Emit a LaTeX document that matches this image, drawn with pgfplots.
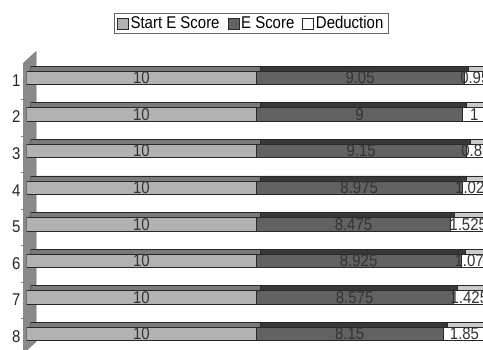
\documentclass[border=0pt]{standalone}
\usepackage{fontspec}
\setmainfont{Liberation Sans}[FakeStretch=0.88]
\usepackage{pgfplots}
\usepackage{pgfplotstable}
\pgfplotsset{compat=1.18}

% bar faces and their top (depth) faces
\definecolor{startface}{RGB}{178,178,178}
\definecolor{starttop}{RGB}{122,122,122}
\definecolor{scoreface}{RGB}{98,98,98}
\definecolor{scoretop}{RGB}{56,56,56}
\definecolor{dedface}{RGB}{255,255,255}
\definecolor{dedtop}{RGB}{202,202,202}
\definecolor{edge}{RGB}{40,40,40}
\definecolor{wall}{RGB}{138,138,138}

\newcommand\chartfont{\fontsize{17}{20}\selectfont}

% run, start value, execution score, deduction
\pgfplotstableread{
run start escore deduction
1 10 9.05  0.95
2 10 9     1
3 10 9.15  0.85
4 10 8.975 1.025
5 10 8.475 1.525
6 10 8.925 1.075
7 10 8.575 1.425
8 10 8.15  1.85
}\scores

% one x unit is 470.5pt / 20.5 = 22.95pt; the page cuts the bars at the right
\pgfplotsset{
  barframe/.style={
    scale only axis, width=470.5pt, height=292.6pt,
    anchor=south west,
    xmin=0, xmax=20.5, ymin=0.5, ymax=8.5, y dir=reverse,
    xbar stacked, bar width=13.5pt,
  },
}

\begin{document}
\begin{tikzpicture}
% side wall of the category axis
\filldraw[fill=wall, draw=black!55, line width=0.5pt]
  (23.3pt,286.7pt) -- (36pt,298.3pt) -- (36pt,8.3pt) -- (23.3pt,-3.3pt) -- cycle;

% depth faces: the same stacks, pushed back and up
\begin{axis}[barframe, at={(30.7pt,2.7pt)}, hide axis]
  \addplot[fill=starttop, draw=edge, line width=0.8pt] table[x=start, y=run] {\scores};
  \addplot[fill=scoretop, draw=edge, line width=0.8pt] table[x=escore, y=run] {\scores};
  \addplot[fill=dedtop, draw=edge, line width=0.8pt] table[x=deduction, y=run] {\scores};
\end{axis}

% front faces with their values (stacked bars centre each value in its segment)
\begin{axis}[barframe, at={(26.7pt,-2.3pt)},
  set layers,
  axis x line=none, axis y line=left,
  y axis line style={draw=none},
  ytick={1,...,8}, major tick length=0pt,
  yticklabel style={anchor=east, inner sep=0pt, xshift=-6pt, yshift=-2.5pt,
    font=\chartfont, text=black!85},
  extra y ticks={1.5,2.5,...,7.5}, extra y tick labels={},
  extra y tick style={major tick length=3pt, tick align=outside,
    tick style={draw=black!50, line width=0.6pt, xshift=-3pt, yshift=-3pt}},
  /pgf/number format/assume math mode=true,
  point meta=rawx,
  nodes near coords={\pgfmathprintnumber[precision=3]{\pgfplotspointmeta}},
  every node near coord/.append style={font=\chartfont,
    text=black!80, on layer=axis foreground},
  legend style={at={(0.4771,1.1237)}, anchor=center, draw=black!60,
    line width=0.6pt, font=\chartfont, legend columns=-1,
    inner xsep=3pt, inner ysep=1pt,
    /tikz/every even column/.append style={column sep=6pt}},
  legend image code/.code={\draw[#1, draw=edge, line width=0.6pt]
    (0pt,-5.5pt) rectangle (11pt,5.5pt);},
]
  \addplot[fill=startface, draw=edge, line width=0.8pt] table[x=start, y=run] {\scores};
  \addplot[fill=scoreface, draw=edge, line width=0.8pt] table[x=escore, y=run] {\scores};
  \addplot[fill=dedface, draw=edge, line width=0.8pt] table[x=deduction, y=run] {\scores};
  \legend{Start E Score, E Score, Deduction}
\end{axis}

\pgfresetboundingbox
\path[use as bounding box] (0pt,0pt) rectangle (483pt,350pt);
\end{tikzpicture}
\end{document}
